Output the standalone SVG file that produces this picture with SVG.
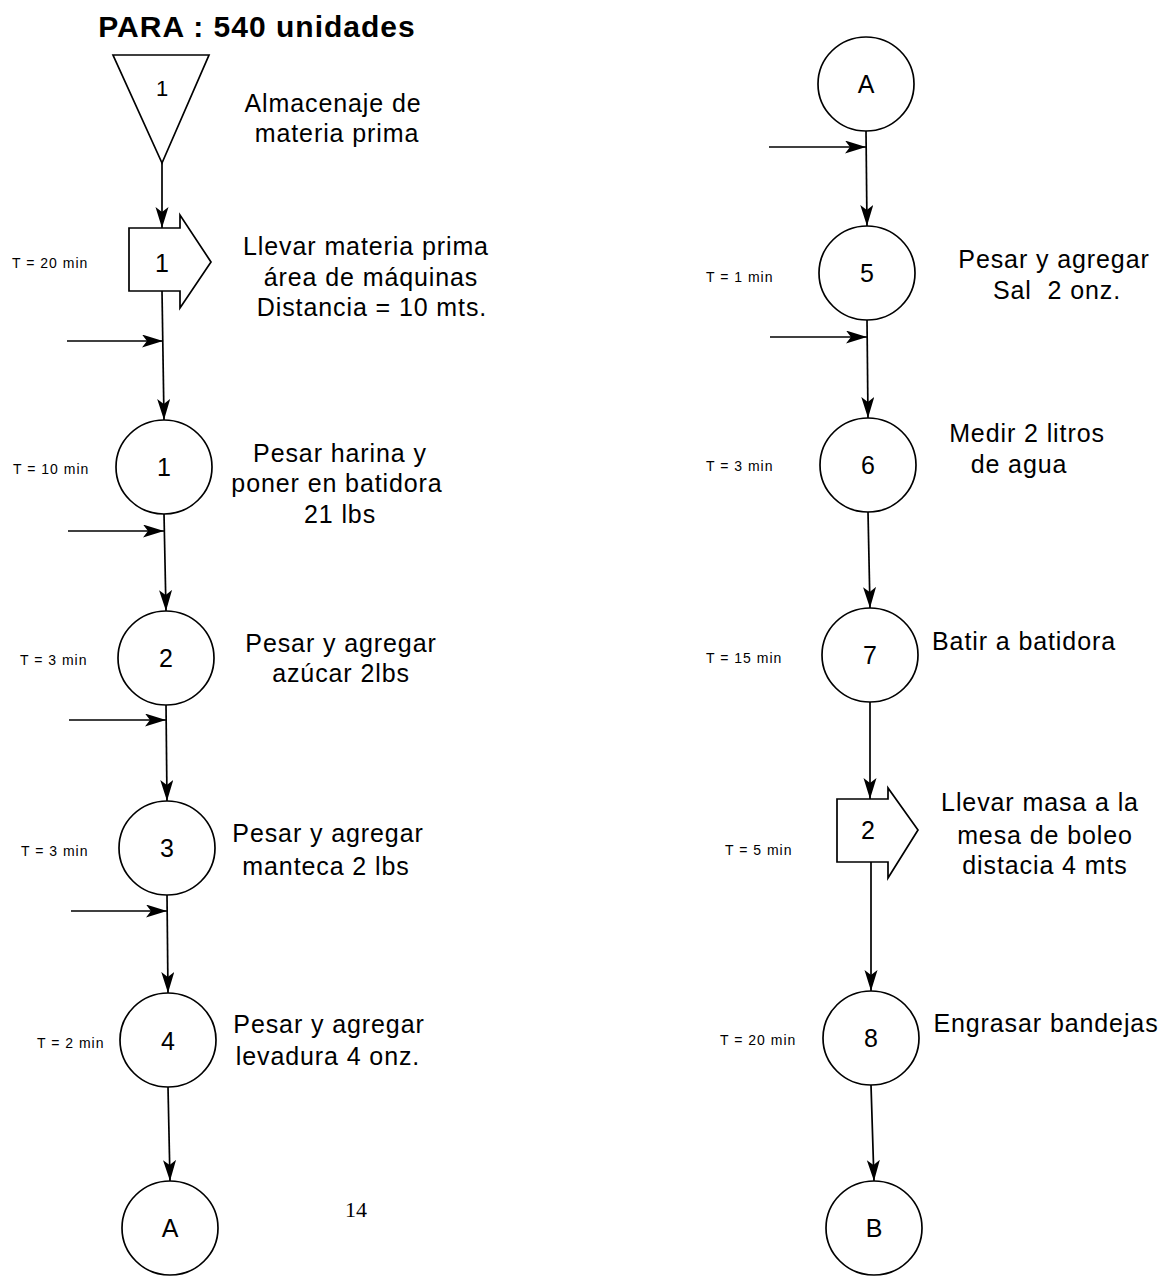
<svg xmlns="http://www.w3.org/2000/svg" width="1175" height="1279" viewBox="0 0 1175 1279">
  <style>
    .shape { fill: #fff; stroke: #000; stroke-width: 1.7; }
    .line { fill: none; stroke: #000; stroke-width: 1.7; }
    .num { font-family: "Liberation Sans", Arial, sans-serif; font-size: 25px; text-anchor: middle; fill: #000; }
    .desc { font-family: "Liberation Sans", Arial, sans-serif; font-size: 25px; letter-spacing: 0.9px; text-anchor: middle; fill: #000; }
    .time { font-family: "Liberation Sans", Arial, sans-serif; font-size: 14px; letter-spacing: 1px; fill: #000; }
    .title { font-family: "Liberation Sans", Arial, sans-serif; font-size: 30px; font-weight: bold; letter-spacing: 1px; text-anchor: middle; fill: #000; }
    .page { font-family: "Liberation Serif", "Times New Roman", serif; font-size: 22px; text-anchor: middle; fill: #000; }
  </style>
  <defs>
    <marker id="head" markerUnits="userSpaceOnUse" markerWidth="24" markerHeight="14" refX="21" refY="6.5" orient="auto">
      <path d="M0,0 L21,6.5 L0,13 L5,6.5 z" fill="#000"/>
    </marker>
  </defs>

  <rect width="1175" height="1279" fill="#fff"/>

  <text class="title" x="257" y="37">PARA : 540 unidades</text>

  <!-- connectors -->
  <g id="connectors">
    <line class="line" x1="162" y1="163" x2="162" y2="228" marker-end="url(#head)"/>
    <line class="line" x1="162" y1="291" x2="164" y2="420" marker-end="url(#head)"/>
    <line class="line" x1="67" y1="341" x2="163" y2="341" marker-end="url(#head)"/>
    <line class="line" x1="164" y1="514" x2="166" y2="611" marker-end="url(#head)"/>
    <line class="line" x1="68" y1="531" x2="164" y2="531" marker-end="url(#head)"/>
    <line class="line" x1="166" y1="704" x2="167" y2="801" marker-end="url(#head)"/>
    <line class="line" x1="69" y1="720" x2="166" y2="720" marker-end="url(#head)"/>
    <line class="line" x1="167" y1="895" x2="168" y2="993" marker-end="url(#head)"/>
    <line class="line" x1="71" y1="911" x2="167" y2="911" marker-end="url(#head)"/>
    <line class="line" x1="168" y1="1087" x2="170" y2="1181" marker-end="url(#head)"/>

    <line class="line" x1="866" y1="131" x2="867" y2="226" marker-end="url(#head)"/>
    <line class="line" x1="769" y1="147" x2="866" y2="147" marker-end="url(#head)"/>
    <line class="line" x1="867" y1="320" x2="868" y2="418" marker-end="url(#head)"/>
    <line class="line" x1="770" y1="337" x2="867" y2="337" marker-end="url(#head)"/>
    <line class="line" x1="868" y1="512" x2="870" y2="608" marker-end="url(#head)"/>
    <line class="line" x1="870" y1="702" x2="870" y2="799" marker-end="url(#head)"/>
    <line class="line" x1="871" y1="862" x2="871" y2="991" marker-end="url(#head)"/>
    <line class="line" x1="871" y1="1085" x2="874" y2="1181" marker-end="url(#head)"/>
  </g>

  <!-- left column -->
  <g id="storage-1">
    <polygon class="shape" points="113,55 209,55 162,163"/>
    <text class="num" x="162" y="96" style="font-size:22px">1</text>
    <text class="desc" x="333" y="112">Almacenaje de</text>
    <text class="desc" x="337" y="142">materia prima</text>
  </g>

  <g id="transport-1">
    <polygon class="shape" points="129,228 180,228 180,215 211,262 180,308 180,291 129,291"/>
    <text class="num" x="162" y="272">1</text>
    <text class="time" x="12" y="268">T = 20 min</text>
    <text class="desc" x="366" y="255">Llevar materia prima</text>
    <text class="desc" x="371" y="286">área de máquinas</text>
    <text class="desc" x="372" y="316">Distancia = 10 mts.</text>
  </g>

  <g id="op-1">
    <ellipse class="shape" cx="164" cy="467" rx="48" ry="47"/>
    <text class="num" x="164" y="476">1</text>
    <text class="time" x="13" y="474">T = 10 min</text>
    <text class="desc" x="340" y="462">Pesar harina y</text>
    <text class="desc" x="337" y="492">poner en batidora</text>
    <text class="desc" x="340" y="523">21 lbs</text>
  </g>

  <g id="op-2">
    <ellipse class="shape" cx="166" cy="658" rx="48" ry="47"/>
    <text class="num" x="166" y="667">2</text>
    <text class="time" x="20" y="665">T = 3 min</text>
    <text class="desc" x="341" y="652">Pesar y agregar</text>
    <text class="desc" x="341" y="682">azúcar 2lbs</text>
  </g>

  <g id="op-3">
    <ellipse class="shape" cx="167" cy="848" rx="48" ry="47"/>
    <text class="num" x="167" y="857">3</text>
    <text class="time" x="21" y="856">T = 3 min</text>
    <text class="desc" x="328" y="842">Pesar y agregar</text>
    <text class="desc" x="326" y="875">manteca 2 lbs</text>
  </g>

  <g id="op-4">
    <ellipse class="shape" cx="168" cy="1040" rx="48" ry="47"/>
    <text class="num" x="168" y="1050">4</text>
    <text class="time" x="37" y="1048">T = 2 min</text>
    <text class="desc" x="329" y="1033">Pesar y agregar</text>
    <text class="desc" x="328" y="1065">levadura 4 onz.</text>
  </g>

  <g id="connector-a-out">
    <ellipse class="shape" cx="170" cy="1228" rx="48" ry="47"/>
    <text class="num" x="170" y="1237">A</text>
  </g>

  <text class="page" x="356" y="1217">14</text>

  <!-- right column -->
  <g id="connector-a-in">
    <ellipse class="shape" cx="866" cy="84" rx="48" ry="47"/>
    <text class="num" x="866" y="93">A</text>
  </g>

  <g id="op-5">
    <ellipse class="shape" cx="867" cy="273" rx="48" ry="47"/>
    <text class="num" x="867" y="282">5</text>
    <text class="time" x="706" y="282">T = 1 min</text>
    <text class="desc" x="1054" y="268">Pesar y agregar</text>
    <text class="desc" x="1057" y="299" xml:space="preserve">Sal  2 onz.</text>
  </g>

  <g id="op-6">
    <ellipse class="shape" cx="868" cy="465" rx="48" ry="47"/>
    <text class="num" x="868" y="474">6</text>
    <text class="time" x="706" y="471">T = 3 min</text>
    <text class="desc" x="1027" y="442">Medir 2 litros</text>
    <text class="desc" x="1019" y="473">de agua</text>
  </g>

  <g id="op-7">
    <ellipse class="shape" cx="870" cy="655" rx="48" ry="47"/>
    <text class="num" x="870" y="664">7</text>
    <text class="time" x="706" y="663">T = 15 min</text>
    <text class="desc" x="1024" y="650">Batir a batidora</text>
  </g>

  <g id="transport-2">
    <polygon class="shape" points="837,799 888,799 888,788 918,830 888,878 888,862 837,862"/>
    <text class="num" x="868" y="839">2</text>
    <text class="time" x="725" y="855">T = 5 min</text>
    <text class="desc" x="1040" y="811">Llevar masa a la</text>
    <text class="desc" x="1045" y="844">mesa de boleo</text>
    <text class="desc" x="1045" y="874">distacia 4 mts</text>
  </g>

  <g id="op-8">
    <ellipse class="shape" cx="871" cy="1038" rx="48" ry="47"/>
    <text class="num" x="871" y="1047">8</text>
    <text class="time" x="720" y="1045">T = 20 min</text>
    <text class="desc" x="1046" y="1032">Engrasar bandejas</text>
  </g>

  <g id="connector-b">
    <ellipse class="shape" cx="874" cy="1228" rx="48" ry="47"/>
    <text class="num" x="874" y="1237">B</text>
  </g>
</svg>
